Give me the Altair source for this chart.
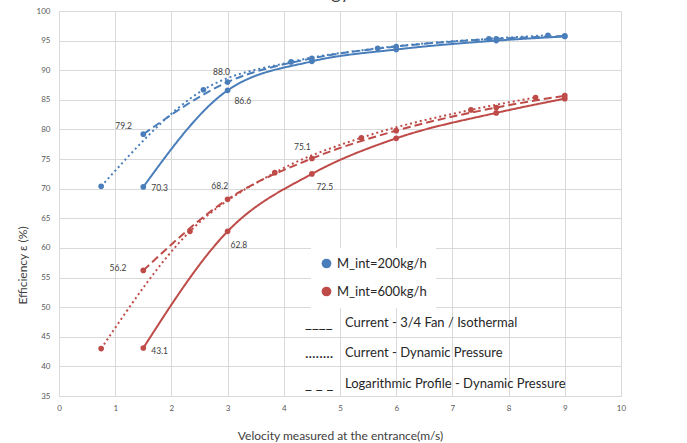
import altair as alt
import pandas as pd

FONT = "Lato"
BLUE = "#4a7ebb"
RED = "#be4b48"

series_types = ["Current - 3/4 Fan / Isothermal",
                "Current - Dynamic Pressure",
                "Logarithmic Profile - Dynamic Pressure"]
masses = ["M_int=200kg/h", "M_int=600kg/h"]

# M_int = 200 kg/h (blue)
b_solid_x = [1.5, 3, 4.5, 6, 7.78, 9]
b_solid_y = [70.3, 86.6, 91.5, 93.5, 95.0, 95.7]
b_dot_x = [0.75, 2.57, 4.13, 5.67, 7.65, 8.7]
b_dot_y = [70.4, 86.7, 91.4, 93.7, 95.3, 95.9]
b_dash_x = [1.5, 3, 4.5, 6, 7.78, 9]
b_dash_y = [79.2, 88.0, 92.0, 94.0, 95.3, 95.8]

# M_int = 600 kg/h (red)
r_solid_x = [1.5, 3, 4.5, 6, 7.78, 9]
r_solid_y = [43.1, 62.8, 72.5, 78.5, 82.8, 85.2]
r_dot_x = [0.75, 2.33, 3.84, 5.38, 7.33, 8.48]
r_dot_y = [43.0, 62.8, 72.7, 78.6, 83.3, 85.4]
r_dash_x = [1.5, 3, 4.5, 6, 7.78, 9]
r_dash_y = [56.2, 68.2, 75.1, 79.8, 83.7, 85.7]

# value labels (text, x, y in data units)
lab_text = ["88.0", "86.6", "79.2", "70.3", "68.2", "62.8", "72.5", "75.1", "56.2", "43.1"]
lab_x = [2.89, 3.27, 1.15, 1.79, 2.86, 3.20, 4.73, 4.33, 1.05, 1.79]
lab_y = [89.75, 84.86, 80.58, 70.17, 70.46, 60.49, 70.24, 77.09, 56.66, 42.6]

x_ticks = list(range(0, 11))
y_ticks = list(range(35, 101, 5))

legend_prefix = ["____", "........", "_ _ _"]
legend_text = ["Current  - 3/4 Fan / Isothermal",
               "Current - Dynamic Pressure",
               "Logarithmic Profile - Dynamic Pressure"]

rows = []
for m, groups in [(masses[0], [(b_solid_x, b_solid_y), (b_dot_x, b_dot_y), (b_dash_x, b_dash_y)]),
                  (masses[1], [(r_solid_x, r_solid_y), (r_dot_x, r_dot_y), (r_dash_x, r_dash_y)])]:
    for t, (xs_, ys_) in zip(series_types, groups):
        for i, (xv, yv) in enumerate(zip(xs_, ys_)):
            rows.append({"mass": m, "type": t, "key": m + t, "x": xv, "y": yv, "order": i})
df = pd.DataFrame(rows)

labels_df = pd.DataFrame({"t": lab_text, "x": lab_x, "y": lab_y})

xs = alt.Scale(domain=[0, 10], nice=False, zero=False)
ys = alt.Scale(domain=[35, 100], nice=False, zero=False)
cscale = alt.Scale(domain=masses, range=[BLUE, RED])

xenc = alt.X("x:Q", scale=xs,
             axis=alt.Axis(values=x_ticks, tickCount=30, title="Velocity measured at the entrance(m/s)",
                           labelPadding=8, titlePadding=18, format="d",
                           labelOverlap=False, labelFlush=False))
yenc = alt.Y("y:Q", scale=ys,
             axis=alt.Axis(values=y_ticks, tickCount=30, title="Efficiency ε (%)", labelPadding=9,
                           labelOverlap=False, labelFlush=False, labelBound=False,
                           titleX=-37, titleY=254, titleBaseline="middle", titleAlign="center"))

lines = alt.Chart(df).mark_line(interpolate="monotone", strokeWidth=2).encode(
    x=xenc, y=yenc,
    color=alt.Color("mass:N", scale=cscale, legend=None),
    strokeDash=alt.StrokeDash("type:N", scale=alt.Scale(domain=series_types,
                                                         range=[[1, 0], [2, 3], [8, 4]]),
                              legend=None),
    detail="key:N",
    order="order:Q",
)

points = alt.Chart(df).mark_circle(size=32, opacity=1).encode(
    x=alt.X("x:Q", scale=xs), y=alt.Y("y:Q", scale=ys),
    color=alt.Color("mass:N", scale=cscale,
                    legend=alt.Legend(title=None, orient="none", legendX=252, legendY=237,
                                      fillColor="white", padding=9, symbolType="circle",
                                      symbolSize=95, labelFontSize=13, labelFont=FONT,
                                      labelColor="#262626", rowPadding=14, symbolStrokeWidth=0,
                                      labelOffset=4)),
)

labels = alt.Chart(labels_df).mark_text(font=FONT, fontSize=8.5, color="#404040",
                                        align="center", baseline="middle").encode(
    x=alt.X("x:Q", scale=xs), y=alt.Y("y:Q", scale=ys), text="t:N")

row_y = [311.7, 342.3, 373]
legend_layers = []
for p, t, yy in zip(legend_prefix, legend_text, row_y):
    d = pd.DataFrame({"p": [p], "t": [t]})
    legend_layers.append(alt.Chart(d).mark_text(font=FONT, fontSize=15, color="#262626",
                                                align="left", baseline="middle").encode(
        x=alt.value(246), y=alt.value(yy), text="p:N"))
    legend_layers.append(alt.Chart(d).mark_text(font=FONT, fontSize=13, color="#262626",
                                                align="left", baseline="middle").encode(
        x=alt.value(286), y=alt.value(yy), text="t:N"))

top_title = alt.Chart(pd.DataFrame({"t": ["Energy"]})).mark_text(
    font=FONT, fontSize=18, color="#404040", align="right", baseline="alphabetic").encode(
    x=alt.value(291), y=alt.value(-12), text="t:N")

chart = alt.layer(lines, points, labels, *legend_layers, top_title).resolve_scale(
    color="independent"
).properties(
    width=562, height=385,
    autosize=alt.AutoSizeParams(type="none"),
    padding={"left": 59, "top": 11, "right": 66, "bottom": 47},
    background="white",
).configure_view(stroke=None).configure_axis(
    labelFont=FONT, labelFontSize=8, labelColor="#595959",
    titleFont=FONT, titleFontSize=12, titleFontWeight="normal", titleColor="#404040",
    ticks=False, domainColor="#d9d9d9", gridColor="#d9d9d9", gridWidth=1,
    labelOverlap=False,
)

chart.save("out.html", embed_options={"renderer": "svg", "actions": False})
